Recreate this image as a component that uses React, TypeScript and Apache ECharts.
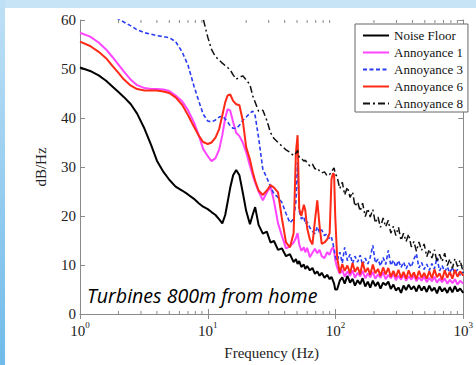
import React, { useEffect, useRef } from "react";
import * as echarts from "echarts";

const freq = [
  // 1–10 Hz (21)
  1, 1.2, 1.4, 1.6, 1.8, 2, 2.2, 2.5, 2.8, 3.2,
  3.6, 4, 4.5, 5, 5.6, 6.3, 7, 7.8, 8.5, 9.2,
  10,
  // 10–100 Hz (45)
  10.7, 11.5, 12.3, 13, 13.7, 14.3, 15, 15.8, 16.7, 17.7,
  18.8, 20, 21.4, 22.5, 23.5, 25, 27, 29, 31, 33,
  35.5, 38, 41, 44, 47, 49, 50.5, 52, 54, 56.5,
  58, 60, 63, 66, 69, 72, 75, 78, 82, 86,
  90, 93, 95.5, 97.5, 99.5,
  // 100–1000 Hz (50)
  103, 108, 113, 118, 124, 130, 136, 142, 149, 156,
  163, 171, 179, 187, 196, 205, 215, 225, 236, 247,
  259, 271, 284, 297, 311, 326, 341, 357, 374, 392,
  411, 430, 450, 472, 494, 518, 542, 568, 595, 623,
  652, 683, 716, 750, 785, 822, 861, 902, 945, 1000,
];

const noiseFloor = [
  50.3, 49.6, 48.7, 47.6, 46.4, 45.3, 44.3, 42.8, 40.9, 37.8,
  34.5, 31.3, 29, 27.4, 26, 25.2, 24.4, 23.5, 22.6, 21.9,
  21.4,
  20.8, 20.2, 19.3, 18.5, 20.2, 22.8, 25.8, 28.3, 29.4, 28.3,
  24.8, 21, 18.3, 20.3, 21.8, 18.2, 16.4, 16.8, 14.6, 14.9,
  13.1, 13.4, 11.8, 12.2, 10.6, 11.2, 10.2, 10.8, 9.6, 10.1,
  9.2, 9.8, 8.9, 9.4, 8.2, 8.7, 7.8, 8.4, 7.4, 8,
  7.1, 7.6, 6.8, 6.2, 5,
  5, 6.8, 7.5, 6.2, 7.8, 6.4, 7.2, 5.8, 6.9, 6.1,
  7.3, 5.6, 6.6, 5.4, 6.8, 5.7, 6.5, 5.2, 6.4, 5.9,
  6.6, 5.1, 6, 4.8, 5.4, 4.3, 5.8, 4.9, 6, 5,
  5.7, 4.6, 5.9, 4.8, 5.6, 4.5, 5.8, 4.7, 5.4, 4.2,
  5.6, 4.6, 5.3, 4.3, 5.5, 4.4, 5.7, 4.6, 5.2, 4.3,
];

const annoyance1 = [
  57.4, 56.6, 55.4, 54, 52.4, 50.9, 49.5, 47.8, 46.7, 46.1,
  45.9, 45.9, 45.8, 45.5, 44.6, 43.4, 41.6, 39.1, 36.5, 33.7,
  32.2,
  31.2, 31.8, 33.6, 36.5, 40, 41.8, 41.5, 39.2, 37, 36.3,
  35, 33, 30.2, 28.3, 26.8, 25, 23.2, 24.8, 26, 23,
  18.5, 16, 13.4, 13.8, 14.6, 15.5, 16.5, 14.2, 12.9, 13.6,
  12.6, 13.5, 11.6, 12.5, 13.3, 12.4, 13.1, 11.8, 11.4, 12.6,
  12.1, 13.2, 13.6, 13, 11,
  9.5, 8.2, 9, 7.6, 8.7, 7.8, 8.9, 7.4, 8.4, 7.7,
  8.8, 7.3, 8.3, 7.5, 8.6, 7.2, 8.1, 7.4, 8.5, 7.1,
  8, 7.3, 8.2, 6.9, 7.8, 7, 8.1, 6.8, 7.7, 7,
  7.9, 6.7, 7.5, 6.8, 7.7, 6.5, 7.4, 6.7, 7.6, 6.4,
  7.2, 6.5, 7.3, 6.2, 7, 6.3, 7.1, 6, 6.8, 6.2,
];

const annoyance3 = [
  66, 64.5, 63, 61.8, 60.9, 60.2, 59.6, 58.8, 58, 57.4,
  57.1, 56.8, 56.6, 56.4, 55.6, 53.5, 50.8, 46.5, 43.5, 40.8,
  39.4,
  39.2, 39.6, 40.2, 40.4, 39.8, 39.2, 38.4, 37.9, 37.9, 38.5,
  39.5, 40.2, 41, 41.4, 40.5, 36, 29.5, 27.8, 26, 24.5,
  23.8, 22.8, 20.5, 18.6, 19.4, 23, 31, 21, 19.4, 19.9,
  18.4, 18.8, 17.6, 16.9, 16.4, 17.8, 16.6, 17.2, 16, 16.4,
  15.2, 15.6, 14.4, 13.2, 11.8,
  10.8, 12.6, 10.4, 13.6, 10.9, 12.2, 10.3, 11.8, 10.6, 12,
  9.9, 11.4, 10.2, 11.6, 14, 10.4, 11.2, 9.8, 11.5, 10.1,
  13, 9.9, 11, 9.6, 10.9, 9.5, 10.6, 9.2, 10.4, 9.6,
  11.2, 12.3, 9.4, 10.5, 9.1, 10.2, 8.9, 10.3, 9.2, 11.5,
  8.8, 9.9, 8.6, 9.6, 8.4, 9.5, 8.3, 9.1, 7.9, 8.6,
];

const annoyance6 = [
  55.6, 54.7, 53.5, 52.2, 50.6, 49.2, 47.9, 46.6, 45.9, 45.6,
  45.6, 45.6, 45.4, 45.1, 44.2, 42.7, 40.6, 38.2, 36.4, 35.1,
  34.7,
  35, 36, 37.8, 40.5, 43.2, 44.6, 44.8, 43.5, 42.8, 42.6,
  39.5, 34, 31.5, 29, 27.2, 25.2, 24.3, 25.2, 26.3, 25.8,
  24.8, 19.6, 14.6, 13.6, 16.5, 33, 36.5, 21.5, 20, 22.3,
  21.2, 17.5, 15.2, 14.2, 19, 23.2, 18, 14.3, 14.6, 15.2,
  16.5, 27.5, 28.7, 28.5, 20,
  11.5, 8.4, 10.2, 8.8, 9.9, 8.3, 10.4, 8.6, 9.6, 8.1,
  10.6, 8.5, 9.4, 8, 10.1, 8.3, 9.2, 7.8, 9.5, 8.1,
  9.4, 7.6, 8.8, 7.5, 9, 7.4, 8.6, 7.2, 8.9, 7.5,
  8.5, 7.1, 8.8, 7.4, 8.4, 7.2, 8.7, 7.3, 9.1, 7.5,
  8.3, 7, 8.9, 7.4, 8.6, 7.2, 9, 7.6, 8.7, 7.8,
];

const annoyance8 = [
  82, 80, 78.5, 77, 76, 75, 74, 73, 72, 71,
  70, 69, 68, 67, 66, 65, 64, 63, 62, 60.3,
  56.5,
  54, 52.5, 51.8, 51.2, 50.7, 50.3, 49.8, 48.8, 47.9, 48.3,
  48.6, 47.8, 46.8, 44.5, 43.2, 41.4, 41.6, 39.5, 37, 35.8,
  35, 34.3, 33.5, 33, 32.3, 32.8, 33.4, 32, 31.8, 31.2,
  31.4, 30.8, 30.2, 30.6, 29.6, 29.8, 29.2, 28.8, 29, 28.2,
  28.5, 29, 29.5, 29.8, 28.6,
  28, 25.6, 26.9, 24.3, 25.9, 23.8, 24.9, 22, 22.9, 21,
  22.6, 19.9, 21.5, 19.8, 21.3, 18.6, 19.8, 17.7, 19.6, 17.8,
  19.1, 16.5, 17.9, 16, 17.7, 15, 16.5, 14.8, 16.3, 13.7,
  14.8, 12.8, 14.7, 13, 14.3, 11.7, 13.2, 11.4, 13.1, 10.6,
  12.2, 10.7, 12.4, 9.9, 11.2, 9.3, 11.3, 9.7, 11, 8.4,
];

const seriesNames = ["Noise Floor", "Annoyance 1", "Annoyance 3", "Annoyance 6", "Annoyance 8"];
const minorTickFreqs = [
  2, 3, 4, 5, 6, 7, 8, 9,
  20, 30, 40, 50, 60, 70, 80, 90,
  200, 300, 400, 500, 600, 700, 800, 900,
];
const annotation = "Turbines 800m from home";

export default function App() {
  const ref = useRef<HTMLDivElement>(null);
  useEffect(() => {
    const chart = echarts.init(ref.current!, null, { renderer: "svg" });
    const serif = "Liberation Serif";
    const axisColor = "#8a8a8a";
    const pair = (vals: number[]) => freq.map((f, i) => [f, vals[i]]);
    const lineSeries = (name: string, vals: number[], color: string, width: number, type: any, z: number) => ({
      name,
      type: "line",
      data: pair(vals),
      symbol: "none",
      showSymbol: false,
      smooth: false,
      clip: true,
      z,
      itemStyle: { color },
      lineStyle: { color, width, type },
    });
    chart.setOption({
      animation: false,
      backgroundColor: "#ffffff",
      textStyle: { fontFamily: serif },
      graphic: [
        { type: "rect", silent: true, z: -10, shape: { x: 0, y: 0, width: 476, height: 8 }, style: { fill: "#c7e4f6" } },
        {
          type: "rect", silent: true, z: -10, shape: { x: 0, y: 0, width: 5, height: 365 },
          style: {
            fill: new echarts.graphic.LinearGradient(0, 0, 0, 1, [
              { offset: 0, color: "#bfe0f6" },
              { offset: 1, color: "#70bbea" },
            ]),
          },
        },
        {
          type: "text", left: 87, top: 285, z: 100, silent: true,
          style: { text: annotation, font: "italic 19.6px 'Open Sans'", fill: "#000" },
        },
      ],
      grid: { left: 80, right: 8, top: 20, bottom: 48 },
      legend: {
        data: seriesNames,
        orient: "vertical",
        left: 355,
        top: 24,
        itemWidth: 26,
        itemHeight: 14,
        itemGap: 4,
        padding: [5, 5, 2, 7],
        borderColor: "#666",
        borderWidth: 1,
        backgroundColor: "#fff",
        itemStyle: { opacity: 0 },
        formatter: (name: string) => `{t|${name}}`,
        textStyle: {
          fontFamily: serif,
          fontSize: 13,
          color: "#111",
          rich: { t: { fontFamily: serif, fontSize: 13, color: "#111" } },
        },
      },
      xAxis: [
        {
          type: "log",
          logBase: 10,
          min: 1,
          max: 1000,
          position: "bottom",
          axisLine: { lineStyle: { color: axisColor } },
          axisTick: { inside: true, length: 5, lineStyle: { color: axisColor } },
          splitLine: { show: false },
          minorTick: { show: false },
          axisLabel: {
            margin: 6,
            formatter: (v: number) => `{b|10}{s|${Math.round(Math.log10(v))}}`,
            rich: {
              b: { fontFamily: serif, fontSize: 15, color: "#222" },
              s: { fontFamily: serif, fontSize: 9, color: "#222", padding: [0, 0, 13, 0] },
            },
          },
          name: "Frequency (Hz)",
          nameLocation: "middle",
          nameGap: 31,
          nameTextStyle: { fontFamily: serif, fontSize: 15, color: "#222" },
        },
        {
          type: "log",
          logBase: 10,
          min: 1,
          max: 1000,
          position: "top",
          axisLine: { lineStyle: { color: axisColor } },
          axisTick: { inside: true, length: 5, lineStyle: { color: axisColor } },
          axisLabel: { show: false },
          splitLine: { show: false },
        },
      ],
      yAxis: [
        {
          type: "value",
          min: 0,
          max: 60,
          interval: 10,
          axisLine: { show: true, lineStyle: { color: axisColor } },
          axisTick: { show: true, inside: true, length: 5, lineStyle: { color: axisColor } },
          splitLine: { show: false },
          axisLabel: { fontFamily: serif, fontSize: 15, color: "#222", margin: 4 },
          name: "dB/Hz",
          nameLocation: "middle",
          nameGap: 32,
          nameTextStyle: { fontFamily: serif, fontSize: 15, color: "#222" },
        },
        {
          type: "value",
          min: 0,
          max: 60,
          interval: 10,
          position: "right",
          axisLine: { show: true, lineStyle: { color: axisColor } },
          axisTick: { show: true, inside: true, length: 5, lineStyle: { color: axisColor } },
          axisLabel: { show: false },
          splitLine: { show: false },
        },
      ],
      series: [
        {
          type: "custom",
          name: "minorTicks",
          silent: true,
          z: 1,
          xAxisIndex: 0,
          yAxisIndex: 0,
          data: minorTickFreqs.map((f) => [f, 0]),
          renderItem: (_p: any, api: any) => {
            const f = api.value(0);
            const b = api.coord([f, 0]);
            const t = api.coord([f, 60]);
            const style = { stroke: axisColor, lineWidth: 1 };
            return {
              type: "group",
              children: [
                { type: "line", shape: { x1: b[0], y1: b[1], x2: b[0], y2: b[1] - 3 }, style },
                { type: "line", shape: { x1: t[0], y1: t[1], x2: t[0], y2: t[1] + 3 }, style },
              ],
            };
          },
        },
        lineSeries(seriesNames[0], noiseFloor, "#000000", 2, "solid", 3),
        lineSeries(seriesNames[1], annoyance1, "#ff45ff", 2, "solid", 4),
        lineSeries(seriesNames[2], annoyance3, "#2a3cf2", 1.6, [4, 2.5], 5),
        lineSeries(seriesNames[3], annoyance6, "#ff2a16", 2, "solid", 6),
        lineSeries(seriesNames[4], annoyance8, "#111111", 1.5, [7, 3, 2, 3], 7),
      ],
    });
    return () => chart.dispose();
  }, []);
  return <div ref={ref} style={{ position: "fixed", left: 0, top: 0, width: 476, height: 365 }} />;
}
